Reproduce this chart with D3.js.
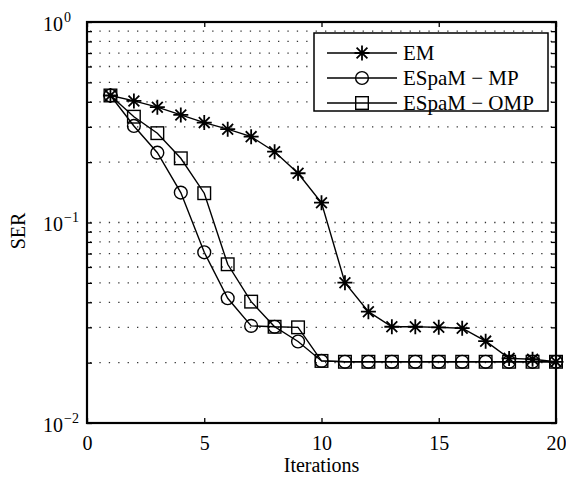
<!DOCTYPE html>
<html>
<head>
<meta charset="utf-8">
<script src="https://cdn.jsdelivr.net/npm/d3@7"></script>
<style>
  html, body { margin: 0; padding: 0; background: #fff; }
  svg text { font-family: "Liberation Serif", "Times New Roman", Times, serif; }
</style>
</head>
<body>
<svg id="chart" width="566" height="478"></svg>
<script>
// Symbol error rate per iteration for the three estimators
const iterations = d3.range(1, 21);
const emSER   = [0.43, 0.404, 0.376, 0.344, 0.315, 0.292, 0.268, 0.2255, 0.176, 0.1255,
                 0.0501, 0.0359, 0.0302, 0.0302, 0.0300, 0.0297, 0.0256, 0.0210, 0.0208, 0.0202];
const mpSER   = [0.43, 0.303, 0.223, 0.141, 0.071, 0.0419, 0.0305, 0.0302, 0.0255, 0.0204,
                 0.0202, 0.0202, 0.0202, 0.0202, 0.0202, 0.0202, 0.0202, 0.0202, 0.0202, 0.0202];
const ompSER  = [0.43, 0.337, 0.279, 0.209, 0.140, 0.0619, 0.0403, 0.0302, 0.0300, 0.0204,
                 0.0202, 0.0202, 0.0202, 0.0202, 0.0202, 0.0202, 0.0202, 0.0202, 0.0202, 0.0202];
const seriesNames = ["EM", "ESpaM − MP", "ESpaM − OMP"];
const seriesMarkers = ["star", "circle", "square"];
const xTicks = [0, 5, 10, 15, 20];
const yMajorTicks = [1e-2, 1e-1, 1];
const yExponents = ["−2", "−1", "0"];

const FONT = "'Liberation Serif', 'Times New Roman', Times, serif";
const svg = d3.select("#chart");
const m = { left: 87, right: 556, top: 22, bottom: 423 };

const x = d3.scaleLinear().domain([0, 20]).range([m.left, m.right]);
const y = d3.scaleLog().domain([1e-2, 1]).range([m.bottom, m.top]);

// minor decade values used for the dotted grid and the small ticks
const yMinor = [];
[1e-2, 1e-1].forEach(d => { for (let k = 2; k <= 9; k++) yMinor.push(d * k); });
const yGrid = yMinor.concat([1e-1]);

// dotted horizontal grid
svg.append("g").selectAll("line").data(yGrid).join("line")
  .attr("x1", m.left + 3).attr("x2", m.right - 3)
  .attr("y1", d => y(d)).attr("y2", d => y(d))
  .attr("stroke", "#333").attr("stroke-width", 1.3)
  .attr("stroke-dasharray", "1.3,8.1");

// axes with inward ticks on all four sides
const gx = svg.append("g").attr("transform", `translate(0,${m.bottom})`)
  .call(d3.axisBottom(x).tickValues(xTicks).tickSize(-5).tickPadding(13).tickFormat(d3.format("d")));
const gxTop = svg.append("g").attr("transform", `translate(0,${m.top})`)
  .call(d3.axisTop(x).tickValues(xTicks).tickSize(-5).tickFormat(""));
const gy = svg.append("g").attr("transform", `translate(${m.left},0)`)
  .call(d3.axisLeft(y).tickValues(yMajorTicks.concat(yMinor)).tickSize(-5).tickFormat(""));
const gyR = svg.append("g").attr("transform", `translate(${m.right},0)`)
  .call(d3.axisRight(y).tickValues(yMajorTicks.concat(yMinor)).tickSize(-5).tickFormat(""));
[gx, gxTop, gy, gyR].forEach(g => {
  g.attr("font-family", FONT);
  g.select(".domain").remove();
  g.selectAll(".tick line").attr("stroke", "#000").attr("stroke-width", 1.3);
});
gx.selectAll(".tick text").attr("font-size", 20).attr("fill", "#000").attr("font-family", FONT);

// y labels as 10 with a superscript exponent, left-aligned in a column
const yl = svg.append("g").selectAll("text").data(yMajorTicks).join("text")
  .attr("x", 43).attr("y", d => y(d) + 8.5)
  .attr("text-anchor", "start").attr("font-size", 20).attr("font-family", FONT).attr("fill", "#000");
yl.append("tspan").text("10");
yl.append("tspan").attr("dx", 1).attr("dy", -9).attr("font-size", 14)
  .text((d, i) => yExponents[i]);

// frame
svg.append("rect")
  .attr("x", m.left).attr("y", m.top)
  .attr("width", m.right - m.left).attr("height", m.bottom - m.top)
  .attr("fill", "none").attr("stroke", "#000").attr("stroke-width", 2.2);

// axis titles
svg.append("text").attr("x", (m.left + m.right) / 2).attr("y", 472)
  .attr("text-anchor", "middle").attr("font-size", 20).attr("font-family", FONT).text("Iterations");
svg.append("text").attr("transform", "translate(25,231) rotate(-90)")
  .attr("text-anchor", "middle").attr("font-size", 20).attr("font-family", FONT).text("SER");

// marker drawing
function drawMarker(g, type, cx, cy) {
  if (type === "circle") {
    g.append("circle").attr("cx", cx).attr("cy", cy).attr("r", 6.4)
      .attr("fill", "none").attr("stroke", "#000").attr("stroke-width", 1.4);
  } else if (type === "square") {
    g.append("rect").attr("x", cx - 6.3).attr("y", cy - 6.3).attr("width", 12.6).attr("height", 12.6)
      .attr("fill", "none").attr("stroke", "#000").attr("stroke-width", 1.4);
  } else {
    const r = 7.5, d = r * 0.72;
    const p = `M${cx - r},${cy}H${cx + r}M${cx},${cy - r}V${cy + r}` +
      `M${cx - d},${cy - d}L${cx + d},${cy + d}M${cx - d},${cy + d}L${cx + d},${cy - d}`;
    g.append("path").attr("d", p).attr("stroke", "#000").attr("stroke-width", 1.8).attr("fill", "none");
  }
}

const allSeries = [emSER, mpSER, ompSER];
const line = d3.line().x(d => x(d[0])).y(d => y(d[1]));
allSeries.forEach((vals, si) => {
  const pts = iterations.map((it, i) => [it, vals[i]]);
  svg.append("path").datum(pts).attr("d", line)
    .attr("fill", "none").attr("stroke", "#000").attr("stroke-width", 1.4);
  const g = svg.append("g");
  pts.forEach(p => drawMarker(g, seriesMarkers[si], x(p[0]), y(p[1])));
});

// legend
const lg = svg.append("g");
const lx = 314, ly = 33, lw = 234, lh = 78;
lg.append("rect").attr("x", lx).attr("y", ly).attr("width", lw).attr("height", lh)
  .attr("fill", "#fff").attr("stroke", "#000").attr("stroke-width", 1.5);
seriesNames.forEach((name, i) => {
  const cy = ly + 20 + i * 25;
  lg.append("line").attr("x1", lx + 13).attr("x2", lx + 83).attr("y1", cy).attr("y2", cy)
    .attr("stroke", "#000").attr("stroke-width", 1.4);
  drawMarker(lg, seriesMarkers[i], lx + 48, cy);
  lg.append("text").attr("x", lx + 89).attr("y", cy + 7)
    .attr("font-size", 21).attr("font-family", FONT).text(name);
});
</script>
</body>
</html>
